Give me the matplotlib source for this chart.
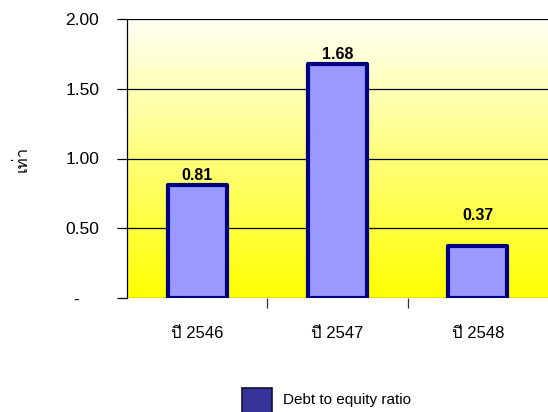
import numpy as np
import matplotlib
matplotlib.use('Agg')
import matplotlib.pyplot as plt
from matplotlib import font_manager
from matplotlib.ft2font import FT2Font
from matplotlib.patches import Rectangle

years = ['ปี 2546', 'ปี 2547', 'ปี 2548']
ratios = [0.81, 1.68, 0.37]
yticks = [0, 0.5, 1.0, 1.5, 2.0]
ytick_labels = ['-    ', '0.50', '1.00', '1.50', '2.00']
series_name = 'Debt to equity ratio'
ylabel = 'เท่า'

# gap between bar top and its value label (the last one sits higher)
label_gap = [0.012, 0.012, 0.17]


def find_thai_font():
    """Look for an installed font that has Thai glyphs."""
    for f in font_manager.fontManager.ttflist:
        try:
            cmap = FT2Font(f.fname).get_charmap()
        except Exception:
            continue
        if ord('ป') in cmap and ord('่') in cmap:
            return f.name
    return 'DejaVu Sans'


thai = find_thai_font()
plt.rcParams['font.family'] = ['Liberation Sans', thai]

fig = plt.figure(figsize=(5.48, 4.12), dpi=100)
ax = fig.add_axes([127 / 548, 1 - 298 / 412, 421 / 548, 279 / 412])

# background gradient: near white at top, yellow at bottom
grad = np.linspace(0, 1, 256)
cols = np.ones((256, 1, 3))
cols[:, 0, 2] = 0.96 * grad
ax.imshow(cols, extent=[-0.5, 2.5, 0, 2.0], aspect='auto', origin='lower', zorder=0)

x = np.arange(len(years))
bars = ax.bar(x, ratios, width=0.42, color='#9999FF', edgecolor='#000080',
              linewidth=3, zorder=3)
for b in bars:
    b.set_joinstyle('round')
for xi, v, g in zip(x, ratios, label_gap):
    ax.text(xi, v + g, '%.2f' % v, ha='center', va='bottom', fontsize=11.5,
            fontweight='bold', zorder=4)

ax.set_xlim(-0.5, 2.5)
ax.set_ylim(0, 2.0)
ax.set_yticks(yticks)
ax.set_yticklabels(ytick_labels, fontsize=12.5)
ax.yaxis.grid(True, color='black', linewidth=0.9, zorder=1)
ax.set_axisbelow(True)
ax.tick_params(axis='y', length=7, width=0.9, pad=13)

ax.set_xticks([0.5, 1.5])
ax.set_xticklabels([])
ax.tick_params(axis='x', length=7, width=0.9, direction='out', color='#333333')
for xi, lab in zip(x, years):
    ax.text(xi, -0.2, lab, ha='center', va='top', fontsize=12)

for s in ['top', 'right', 'bottom']:
    ax.spines[s].set_visible(False)
ax.spines['left'].set_linewidth(0.9)

fig.text(22 / 548, 1 - 159 / 412, ylabel, rotation=90, ha='center', va='center',
         fontsize=12)

# legend drawn by hand: swatch cut by the lower edge, as in the original
fig.patches.append(Rectangle((242 / 548, -0.01), 30 / 548, (1 - 388 / 412) + 0.01,
                             transform=fig.transFigure, facecolor='#333399',
                             edgecolor='#111133', linewidth=1.2))
fig.text(283 / 548, 1 - 400 / 412, series_name, ha='left', va='center', fontsize=11)

fig.savefig('out.png', dpi=100)
